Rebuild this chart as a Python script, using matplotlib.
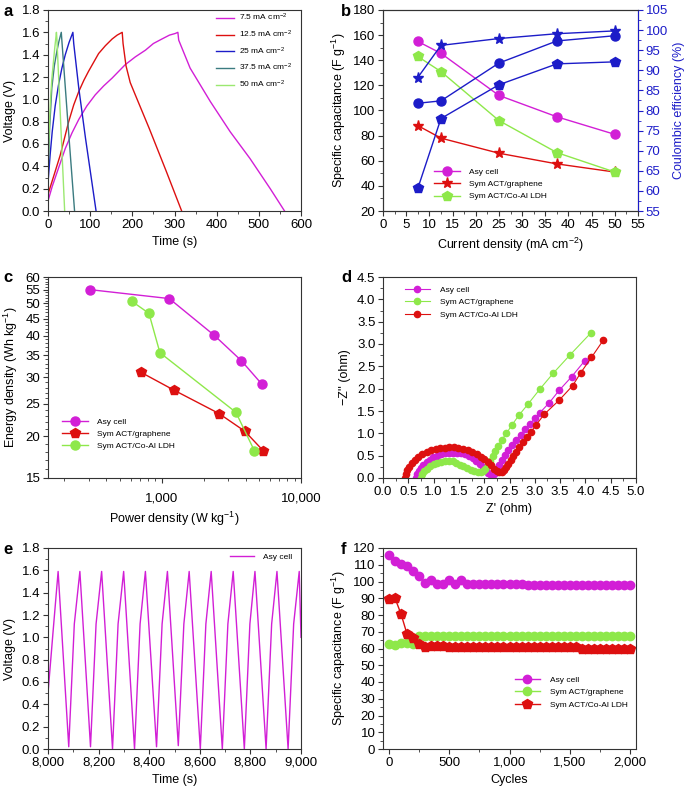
import numpy as np
import matplotlib
matplotlib.use('Agg')
import matplotlib.pyplot as plt
from matplotlib.ticker import MultipleLocator, FuncFormatter, FixedLocator, NullFormatter

plt.rcParams['font.family'] = ['Liberation Sans', 'DejaVu Sans']
plt.rcParams['mathtext.default'] = 'regular'
plt.rcParams['axes.linewidth'] = 0.8
plt.rcParams['axes.edgecolor'] = '#333333'

MAG = '#d21fd6'
RED = '#dd1010'
GRN = '#8ee84a'
BLU = '#1c1cc8'
TEAL = '#3b7b80'
LGRN = '#9be870'

# ---- panel a: charge/discharge curves
a_labels = ['7.5 mA cm$^{-2}$', '12.5 mA cm$^{-2}$', '25 mA cm$^{-2}$', '37.5 mA cm$^{-2}$', '50 mA cm$^{-2}$']
a_t75 = [0, 10, 20, 41, 57, 73, 92, 112, 132, 152, 183, 207, 231, 250, 270, 288, 302, 308, 310, 337, 385, 432, 479, 527, 561]
a_v75 = [0.09, 0.22, 0.33, 0.56, 0.70, 0.82, 0.94, 1.04, 1.12, 1.19, 1.31, 1.38, 1.44, 1.50, 1.54, 1.575, 1.59, 1.60, 1.53, 1.28, 0.98, 0.71, 0.47, 0.20, 0.0]
a_t125 = [0, 15, 29, 49, 61, 73, 85, 96, 108, 120, 136, 152, 164, 176, 178, 185, 195, 207, 240, 280, 317]
a_v125 = [0.15, 0.33, 0.50, 0.80, 0.95, 1.07, 1.17, 1.25, 1.33, 1.41, 1.48, 1.54, 1.575, 1.60, 1.50, 1.30, 1.15, 1.04, 0.74, 0.36, 0.0]
a_t25 = [0, 5, 10, 17, 25, 33, 41, 50, 59, 61, 73, 89, 114]
a_v25 = [0.25, 0.50, 0.71, 0.94, 1.13, 1.28, 1.40, 1.51, 1.60, 1.50, 1.10, 0.65, 0.0]
a_t375 = [0, 4, 9, 15, 21, 26, 31.5, 33, 47, 63]
a_v375 = [0.30, 0.75, 1.10, 1.30, 1.43, 1.52, 1.60, 1.52, 0.80, 0.0]
a_t50 = [0, 3, 6, 9, 12, 16, 20, 21, 39.5]
a_v50 = [0.35, 0.75, 1.00, 1.18, 1.30, 1.46, 1.60, 1.55, 0.0]

# ---- panel b: rate capability
b_j = [7.5, 12.5, 25, 37.5, 50]
b_asy = [155, 145.5, 112, 95, 81]
b_sym_gr = [88, 78, 66, 57.5, 51]
b_sym_ldh = [143, 131, 92, 66.5, 51]
b_ce_star = [88.2, 96.2, 97.9, 99.1, 99.8]
b_ce_circ = [81.8, 82.4, 91.8, 97.3, 98.6]
b_ce_pent = [60.6, 78.0, 86.4, 91.6, 92.1]

# ---- panel c: Ragone
c_p_asy = [305, 1135, 2390, 3730, 5220]
c_e_asy = [55.0, 51.7, 40.1, 33.7, 28.7]
c_p_gr = [710, 1225, 2580, 3960, 5360]
c_e_gr = [31.1, 27.5, 23.4, 20.7, 18.1]
c_p_ldh = [609, 811, 972, 3410, 4630]
c_e_ldh = [50.8, 46.7, 35.6, 23.6, 18.1]

# ---- panel d: Nyquist
d_x_asy = [0.66, 0.68, 0.71, 0.75, 0.80, 0.86, 0.92, 0.99, 1.06, 1.14, 1.22, 1.30, 1.38, 1.46, 1.54,
           1.62, 1.70, 1.77, 1.84, 1.91, 1.97, 2.03, 2.08, 2.13, 2.17, 2.21, 2.25, 2.30, 2.35, 2.41,
           2.48, 2.55, 2.63, 2.72, 2.81, 2.91, 3.01, 3.10, 3.29, 3.48, 3.73, 3.99]
d_y_asy = [0.0, 0.08, 0.15, 0.22, 0.29, 0.35, 0.41, 0.46, 0.50, 0.53, 0.55, 0.57, 0.57, 0.57, 0.56,
           0.53, 0.49, 0.44, 0.38, 0.31, 0.24, 0.17, 0.11, 0.07, 0.07, 0.12, 0.20, 0.29, 0.40, 0.51,
           0.62, 0.73, 0.85, 0.97, 1.09, 1.22, 1.35, 1.46, 1.69, 1.96, 2.27, 2.63]
d_x_gr = [0.76, 0.78, 0.82, 0.87, 0.93, 1.00, 1.07, 1.14, 1.22, 1.30, 1.38, 1.45, 1.52, 1.59, 1.66,
          1.73, 1.80, 1.87, 1.93, 1.98, 2.02, 2.07, 2.12, 2.17, 2.22, 2.28, 2.35, 2.44, 2.55, 2.69,
          2.87, 3.10, 3.36, 3.70, 4.11]
d_y_gr = [0.0, 0.08, 0.15, 0.21, 0.26, 0.31, 0.34, 0.36, 0.38, 0.38, 0.37, 0.34, 0.30, 0.26, 0.22,
          0.18, 0.15, 0.13, 0.13, 0.15, 0.20, 0.29, 0.39, 0.50, 0.61, 0.72, 0.86, 1.00, 1.19, 1.41,
          1.66, 1.99, 2.34, 2.76, 3.25]
d_x_ldh = [0.43, 0.45, 0.48, 0.52, 0.57, 0.63, 0.70, 0.78, 0.86, 0.95, 1.04, 1.13, 1.22, 1.31, 1.40,
           1.49, 1.58, 1.67, 1.76, 1.85, 1.93, 2.00, 2.07, 2.13, 2.19, 2.25, 2.30, 2.35, 2.39, 2.43,
           2.47, 2.52, 2.57, 2.63, 2.69, 2.76, 2.84, 2.93, 3.02, 3.19, 3.48, 3.75, 3.91, 4.12, 4.35]
d_y_ldh = [0.0, 0.09, 0.17, 0.25, 0.33, 0.40, 0.47, 0.53, 0.58, 0.62, 0.65, 0.67, 0.68, 0.69, 0.69,
           0.68, 0.66, 0.63, 0.59, 0.54, 0.48, 0.42, 0.35, 0.28, 0.21, 0.16, 0.13, 0.13, 0.17, 0.24,
           0.32, 0.41, 0.50, 0.59, 0.69, 0.80, 0.92, 1.04, 1.18, 1.43, 1.74, 2.07, 2.36, 2.70, 3.08]

# ---- panel e: long cycling GCD
e_t = [8000, 8020, 8040, 8082, 8104, 8126, 8168, 8190, 8212, 8255, 8277, 8299, 8342, 8364, 8385,
       8429, 8451, 8472, 8515, 8537, 8558, 8602, 8624, 8645, 8689, 8711, 8732, 8776, 8798, 8818,
       8862, 8884, 8905, 8949, 8971, 8993, 9000]
e_v = [0.50, 1.05, 1.59, 0.02, 1.12, 1.59, 0.02, 1.12, 1.59, 0.0, 1.12, 1.59, 0.0, 1.12, 1.59,
       0.02, 1.12, 1.59, 0.03, 1.12, 1.59, 0.0, 1.12, 1.59, 0.0, 1.12, 1.59, 0.0, 1.12, 1.59,
       0.0, 1.12, 1.59, 0.0, 1.12, 1.59, 1.0]

# ---- panel f: cycle stability
f_cyc = [0, 50, 100, 150, 200, 250, 300, 350, 400, 450, 500, 550, 600, 650, 700, 750, 800, 850, 900,
         950, 1000, 1050, 1100, 1150, 1200, 1250, 1300, 1350, 1400, 1450, 1500, 1550, 1600, 1650,
         1700, 1750, 1800, 1850, 1900, 1950, 2000]
f_asy = [116, 112, 110.5, 109, 106.5, 103, 99, 101, 98.5, 98.5, 101, 98.5, 101, 98.5, 98.5, 98.5,
         98.5, 98.5, 98.5, 98.5, 98.5, 98.5, 98.5, 98, 98, 98, 98, 98, 98, 98, 98, 98, 98, 98, 98,
         98, 98, 98, 98, 98, 98]
f_gr = [62.5, 62.2, 63, 63.5, 62.8, 67.5, 67.5, 67.5, 67.5, 67.5, 67.5, 67.5, 67.5, 67.5, 67.5,
        67.5, 67.5, 67.5, 67.5, 67.5, 67.5, 67.5, 67.5, 67.5, 67.5, 67.5, 67.5, 67.5, 67.5, 67.5,
        67.5, 67.5, 67.5, 67.5, 67.5, 67.5, 67.5, 67.5, 67.5, 67.5, 67.5]
f_ldh = [89.5, 90, 80.5, 68.5, 66.5, 62.5, 61, 61.5, 61.5, 61.5, 61, 61, 61, 61, 61, 61, 61, 61,
         61, 61, 61, 61, 61, 61, 61, 61, 61, 61, 61, 61, 61, 61, 60, 59.5, 59.5, 59.5, 59.5, 59.5,
         59.5, 59.5, 59.5]

W, H = 685, 789
fig = plt.figure(figsize=(W / 100, H / 100), dpi=100)


def box(l, t, r, b):
    return [l / W, 1 - b / H, (r - l) / W, (b - t) / H]


def style(ax):
    ax.tick_params(which='both', direction='out', labelsize=9.5, top=False, right=False,
                   color='#333333', pad=2)
    ax.tick_params(which='major', length=3.5, width=0.8)
    ax.tick_params(which='minor', length=2, width=0.6)


def comma(x, pos):
    return '{:,.0f}'.format(x)


leg_kw = dict(frameon=False, fontsize=6, loc='upper left', borderaxespad=0, borderpad=0,
              handlelength=3.1, handletextpad=1.1, labelspacing=0.55)

# a
ax = fig.add_axes(box(48, 10, 301, 211))
ax.plot(a_t75, a_v75, color=MAG, lw=1, label=a_labels[0])
ax.plot(a_t125, a_v125, color=RED, lw=1, label=a_labels[1])
ax.plot(a_t25, a_v25, color=BLU, lw=1, label=a_labels[2])
ax.plot(a_t375, a_v375, color=TEAL, lw=1, label=a_labels[3])
ax.plot(a_t50, a_v50, color=LGRN, lw=1, label=a_labels[4])
ax.set_xlim(0, 600)
ax.set_ylim(0, 1.8)
ax.xaxis.set_major_locator(MultipleLocator(100))
ax.xaxis.set_minor_locator(MultipleLocator(50))
ax.yaxis.set_major_locator(MultipleLocator(0.2))
ax.yaxis.set_minor_locator(MultipleLocator(0.1))
ax.yaxis.set_major_formatter(FuncFormatter(lambda v, p: '%.1f' % v))
ax.set_xlabel('Time (s)', fontsize=9)
ax.set_ylabel('Voltage (V)', fontsize=9)
style(ax)
ax.legend(bbox_to_anchor=(0.665, 0.99), **dict(leg_kw, handlelength=2.1, handletextpad=0.6, labelspacing=0.65))

# b
ax = fig.add_axes(box(383, 10, 638, 211))
ax.plot(b_j, b_asy, '-o', color=MAG, ms=6.5, lw=1, label='Asy cell')
ax.plot(b_j, b_sym_gr, '-*', color=RED, ms=8, lw=1, label='Sym ACT/graphene')
ax.plot(b_j, b_sym_ldh, '-p', color=GRN, ms=7, lw=1, label='Sym ACT/Co-Al LDH')
ax.set_xlim(0, 55)
ax.set_ylim(20, 180)
ax.xaxis.set_major_locator(MultipleLocator(5))
ax.xaxis.set_minor_locator(MultipleLocator(2.5))
ax.yaxis.set_major_locator(MultipleLocator(20))
ax.yaxis.set_minor_locator(MultipleLocator(10))
ax.set_xlabel('Current density (mA cm$^{-2}$)', fontsize=9)
ax.set_ylabel('Specific capacitance (F g$^{-1}$)', fontsize=9)
style(ax)
ax.legend(bbox_to_anchor=(0.2, 0.215), **leg_kw)
ax2 = ax.twinx()
ax2.plot(b_j, b_ce_star, '-*', color=BLU, ms=8, lw=1)
ax2.plot(b_j, b_ce_circ, '-o', color=BLU, ms=6.5, lw=1)
ax2.plot(b_j, b_ce_pent, '-p', color=BLU, ms=7, lw=1)
ax2.set_ylim(55, 105)
ax2.yaxis.set_major_locator(MultipleLocator(5))
ax2.yaxis.set_minor_locator(MultipleLocator(2.5))
ax2.tick_params(which='both', direction='out', labelsize=9.5, colors=BLU, pad=2)
ax2.tick_params(which='major', length=3.5)
ax2.tick_params(which='minor', length=2)
ax2.spines['right'].set_color(BLU)
ax2.set_ylabel('Coulombic efficiency (%)', fontsize=9, color=BLU)

# c
ax = fig.add_axes(box(48, 277, 301, 478))
ax.plot(c_p_asy, c_e_asy, '-o', color=MAG, ms=6.5, lw=1, label='Asy cell')
ax.plot(c_p_gr, c_e_gr, '-p', color=RED, ms=7.5, lw=1, label='Sym ACT/graphene')
ax.plot(c_p_ldh, c_e_ldh, '-o', color=GRN, ms=6.5, lw=1, label='Sym ACT/Co-Al LDH')
ax.set_xscale('log')
ax.set_yscale('log')
ax.set_xlim(153, 10000)
ax.set_ylim(15, 60)
ax.xaxis.set_major_locator(FixedLocator([1000, 10000]))
ax.xaxis.set_major_formatter(FuncFormatter(comma))
ax.xaxis.set_minor_formatter(NullFormatter())
ax.yaxis.set_major_locator(FixedLocator([15, 20, 25, 30, 35, 40, 45, 50, 55, 60]))
ax.yaxis.set_major_formatter(FuncFormatter(lambda v, p: '%d' % v))
ax.yaxis.set_minor_locator(FixedLocator(list(range(16, 60))))
ax.yaxis.set_minor_formatter(NullFormatter())
ax.set_xlabel('Power density (W kg$^{-1}$)', fontsize=9, labelpad=4)
ax.set_ylabel('Energy density (Wh kg$^{-1}$)', fontsize=9)
style(ax)
ax.tick_params(axis='x', which='major', pad=7)
ax.legend(bbox_to_anchor=(0.055, 0.3), **leg_kw)

# d
ax = fig.add_axes(box(383, 277, 636, 478))
ax.plot(d_x_asy, d_y_asy, '-o', color=MAG, ms=4.5, lw=0.8, label='Asy cell')
ax.plot(d_x_gr, d_y_gr, '-o', color=GRN, ms=4.5, lw=0.8, label='Sym ACT/graphene')
ax.plot(d_x_ldh, d_y_ldh, '-o', color=RED, ms=4.5, lw=0.8, label='Sym ACT/Co-Al LDH')
ax.set_xlim(0, 5)
ax.set_ylim(0, 4.5)
ax.xaxis.set_major_locator(MultipleLocator(0.5))
ax.xaxis.set_minor_locator(MultipleLocator(0.25))
ax.yaxis.set_major_locator(MultipleLocator(0.5))
ax.yaxis.set_minor_locator(MultipleLocator(0.25))
ax.xaxis.set_major_formatter(FuncFormatter(lambda v, p: '%.1f' % v))
ax.yaxis.set_major_formatter(FuncFormatter(lambda v, p: '%.1f' % v))
ax.set_xlabel("Z' (ohm)", fontsize=9)
ax.set_ylabel("\u2212Z'' (ohm)", fontsize=9)
style(ax)
ax.legend(bbox_to_anchor=(0.085, 0.955), **leg_kw)

# e
ax = fig.add_axes(box(48, 548, 301, 749))
ax.plot(e_t, e_v, color=MAG, lw=1, label='Asy cell')
ax.set_xlim(8000, 9000)
ax.set_ylim(0, 1.8)
ax.xaxis.set_major_locator(MultipleLocator(200))
ax.xaxis.set_minor_locator(MultipleLocator(100))
ax.xaxis.set_major_formatter(FuncFormatter(comma))
ax.yaxis.set_major_locator(MultipleLocator(0.2))
ax.yaxis.set_minor_locator(MultipleLocator(0.1))
ax.yaxis.set_major_formatter(FuncFormatter(lambda v, p: '%.1f' % v))
ax.set_xlabel('Time (s)', fontsize=9)
ax.set_ylabel('Voltage (V)', fontsize=9)
style(ax)
ax.legend(bbox_to_anchor=(0.72, 0.975), **dict(leg_kw, handlelength=2.9))

# f
ax = fig.add_axes(box(383, 548, 636, 749))
ax.plot(f_cyc, f_asy, '-o', color=MAG, ms=6, lw=1, label='Asy cell')
ax.plot(f_cyc, f_gr, '-o', color=GRN, ms=6, lw=1, label='Sym ACT/graphene')
ax.plot(f_cyc, f_ldh, '-p', color=RED, ms=7, lw=1, label='Sym ACT/Co-Al LDH')
ax.set_xlim(-50, 2050)
ax.set_ylim(0, 120)
ax.xaxis.set_major_locator(MultipleLocator(500))
ax.xaxis.set_minor_locator(MultipleLocator(250))
ax.xaxis.set_major_formatter(FuncFormatter(comma))
ax.yaxis.set_major_locator(MultipleLocator(10))
ax.yaxis.set_minor_locator(MultipleLocator(5))
ax.set_xlabel('Cycles', fontsize=9)
ax.set_ylabel('Specific capacitance (F g$^{-1}$)', fontsize=9)
style(ax)
ax.legend(bbox_to_anchor=(0.52, 0.363), **leg_kw)

# panel letters
for lab, x, y in [('a', 3, 4), ('b', 341, 4), ('c', 3, 270), ('d', 341, 270), ('e', 3, 542), ('f', 341, 542)]:
    fig.text(x / W, 1 - y / H, lab, fontsize=12, fontweight='bold', va='top', ha='left')

fig.savefig('out.png', dpi=100)
